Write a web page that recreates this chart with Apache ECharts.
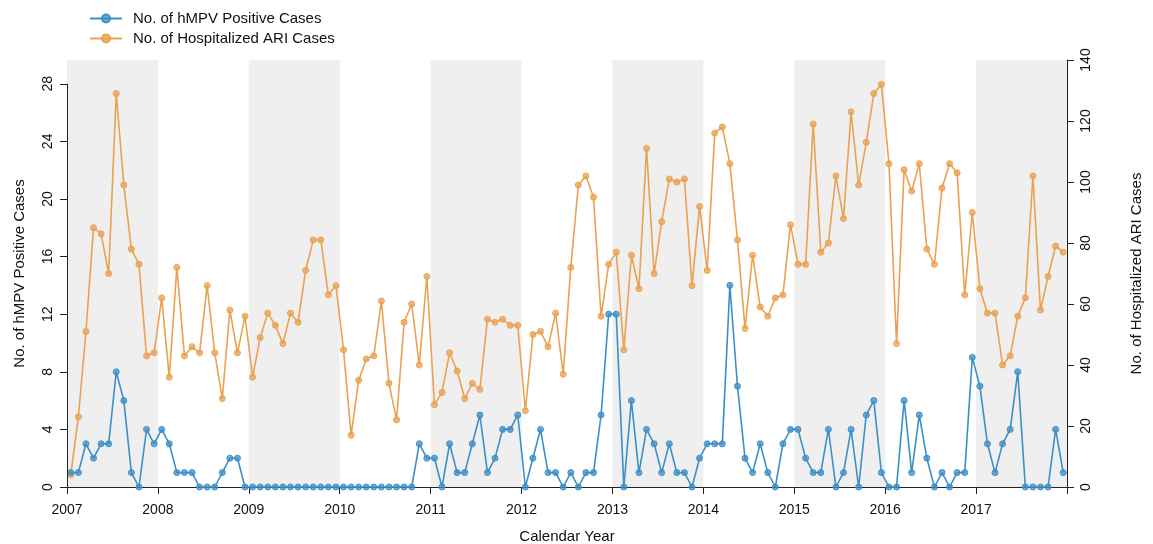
<!DOCTYPE html>
<html>
<head>
<meta charset="utf-8">
<script src="https://cdn.jsdelivr.net/npm/echarts@6/dist/echarts.min.js"></script>
<style>html,body{margin:0;padding:0;background:#fff}#c{width:1153px;height:544px}</style>
</head>
<body>
<div id="c"></div>
<script>
// Calendar years (x axis ticks) and shaded years
const years = [2007, 2008, 2009, 2010, 2011, 2012, 2013, 2014, 2015, 2016, 2017];
const shadedYears = [2007, 2009, 2011, 2013, 2015, 2017];
const leftTicks = [0, 4, 8, 12, 16, 20, 24, 28];
const rightTicks = [0, 20, 40, 60, 80, 100, 120, 140];
const seriesNames = ['No. of hMPV Positive Cases', 'No. of Hospitalized ARI Cases'];
// Monthly hMPV positive cases, Jan 2007 - Dec 2017 (one row per year)
const hmpv = [
  1,1,3,2,3,3,8,6,1,0,4,3,
  4,3,1,1,1,0,0,0,1,2,2,0,
  0,0,0,0,0,0,0,0,0,0,0,0,
  0,0,0,0,0,0,0,0,0,0,3,2,
  2,0,3,1,1,3,5,1,2,4,4,5,
  0,2,4,1,1,0,1,0,1,1,5,12,
  12,0,6,1,4,3,1,3,1,1,0,2,
  3,3,3,14,7,2,1,3,1,0,3,4,
  4,2,1,1,4,0,1,4,0,5,6,1,
  0,0,6,1,5,2,0,1,0,1,1,9,
  7,3,1,3,4,8,0,0,0,0,4,1
];
// Monthly hospitalized ARI cases, Jan 2007 - Dec 2017
const ari = [
  4,23,51,85,83,70,129,99,78,73,43,44,
  62,36,72,43,46,44,66,44,29,58,44,56,
  36,49,57,53,47,57,54,71,81,81,63,66,
  45,17,35,42,43,61,34,22,54,60,40,69,
  27,31,44,38,29,34,32,55,54,55,53,53,
  25,50,51,46,57,37,72,99,102,95,56,73,
  77,45,76,65,111,70,87,101,100,101,66,92,
  71,116,118,106,81,52,76,59,56,62,63,86,
  73,73,119,77,80,102,88,123,99,113,129,132,
  106,47,104,97,106,78,73,98,106,103,63,90,
  65,57,57,40,43,56,62,102,58,69,79,77
];
const blue = '#3d8fc7';
const orange = '#eba152';
const pos = i => years[0] + (i + 0.5) / 12;
const hData = hmpv.map((v, i) => [pos(i), v]);
const aData = ari.map((v, i) => [pos(i), v]);
const font = 'Liberation Sans, Arial, sans-serif';

const chart = echarts.init(document.getElementById('c'));
chart.setOption({
  animation: false,
  textStyle: { fontFamily: font },
  grid: { left: 67, right: 86, top: 60, bottom: 57, outerBoundsMode: 'none', containLabel: false },
  legend: {
    orient: 'vertical', left: 84, top: 6, itemWidth: 32, itemHeight: 10, itemGap: 5,
    textStyle: { fontSize: 15, color: '#111', fontFamily: font, padding: [0, 0, 0, 6] },
    data: seriesNames
  },
  xAxis: {
    type: 'value', min: 2007, max: 2018, interval: 1,
    name: 'Calendar Year', nameLocation: 'middle', nameGap: 42,
    nameTextStyle: { fontSize: 15, color: '#111' },
    axisLine: { show: true, lineStyle: { color: '#222', width: 1 } },
    axisTick: { show: true, inside: false, length: 7, lineStyle: { color: '#222' } },
    axisLabel: { fontSize: 14, color: '#111', margin: 16,
      formatter: v => (v < 2018 ? String(v) : '') },
    splitLine: { show: false }
  },
  yAxis: [
    {
      type: 'value', min: 0, max: 29.65, interval: 4,
      name: 'No. of hMPV Positive Cases', nameLocation: 'middle', nameGap: 40,
      nameTextStyle: { fontSize: 15, color: '#111' },
      axisLine: { show: false },
      axisTick: { show: true, length: 7, lineStyle: { color: '#222' }, customValues: leftTicks },
      axisLabel: { fontSize: 14, color: '#111', rotate: 90, margin: 12, customValues: leftTicks },
      splitLine: { show: false }
    },
    {
      type: 'value', min: 0, max: 140, interval: 20, position: 'right',
      name: 'No. of Hospitalized ARI Cases', nameLocation: 'middle', nameGap: 62,
      nameRotate: 90,
      nameTextStyle: { fontSize: 15, color: '#111' },
      axisLine: { show: true, lineStyle: { color: '#222', width: 1 } },
      axisTick: { show: true, length: 7, lineStyle: { color: '#222' }, customValues: rightTicks },
      axisLabel: { fontSize: 14, color: '#111', rotate: 90, margin: 12, customValues: rightTicks },
      splitLine: { show: false }
    }
  ],
  series: [
    {
      name: seriesNames[0], type: 'line', yAxisIndex: 0, data: hData, z: 4,
      symbol: 'circle', symbolSize: 6, showAllSymbol: true,
      lineStyle: { color: blue, width: 1.6 },
      itemStyle: { color: 'rgba(61,143,199,0.75)', borderColor: blue, borderWidth: 1 },
      markArea: {
        silent: true, itemStyle: { color: '#efefef' },
        data: shadedYears.map(y => [{ xAxis: y }, { xAxis: y + 1 }])
      },
      markLine: {
        silent: true, symbol: 'none', label: { show: false },
        lineStyle: { color: '#222', width: 1, type: 'solid' },
        data: [[{ coord: [years[0], 0] }, { coord: [years[0], 28] }]]
      }
    },
    {
      name: seriesNames[1], type: 'line', yAxisIndex: 1, data: aData, z: 3,
      symbol: 'circle', symbolSize: 6, showAllSymbol: true,
      lineStyle: { color: orange, width: 1.6 },
      itemStyle: { color: 'rgba(235,161,82,0.75)', borderColor: orange, borderWidth: 1 }
    }
  ]
});
</script>
</body>
</html>
